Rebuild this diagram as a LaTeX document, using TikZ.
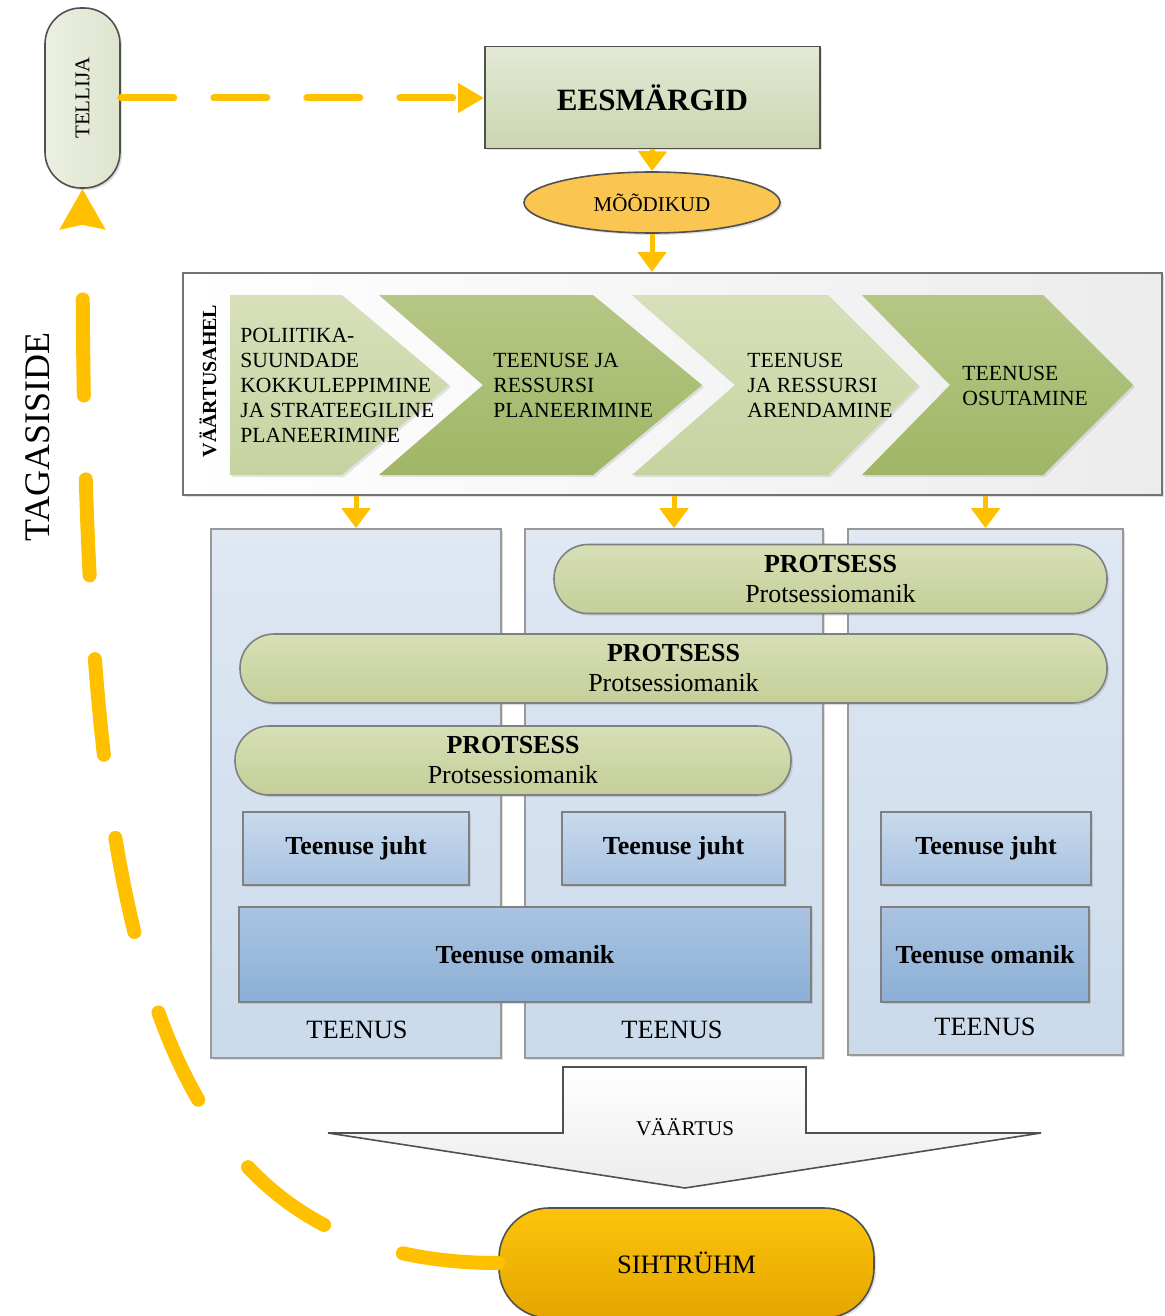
\documentclass[tikz,border=0pt]{standalone}
\usepackage{fontspec}
\setmainfont{Liberation Serif}
\usepackage{graphicx}
\usetikzlibrary{arrows.meta,calc,positioning,shapes.geometric,shadows}
\definecolor{flowColor}{RGB}{255,192,0}
\definecolor{borderColor}{RGB}{128,128,128}
\definecolor{darkBorderColor}{RGB}{80,80,80}
\definecolor{goalTopColor}{RGB}{227,233,214}
\definecolor{goalBottomColor}{RGB}{203,213,176}
\definecolor{customerColor}{RGB}{222,229,206}
\definecolor{metricColor}{RGB}{250,197,80}
\definecolor{chainColor}{RGB}{236,236,236}
\definecolor{linkLightTopColor}{RGB}{215,224,186}
\definecolor{linkLightBottomColor}{RGB}{198,211,160}
\definecolor{linkDarkTopColor}{RGB}{182,199,133}
\definecolor{linkDarkBottomColor}{RGB}{160,182,102}
\definecolor{serviceTopColor}{RGB}{223,232,243}
\definecolor{serviceBottomColor}{RGB}{202,218,235}
\definecolor{processTopColor}{RGB}{215,223,182}
\definecolor{processBottomColor}{RGB}{196,207,152}
\definecolor{leadTopColor}{RGB}{200,218,237}
\definecolor{leadBottomColor}{RGB}{168,194,224}
\definecolor{ownerTopColor}{RGB}{170,196,225}
\definecolor{ownerBottomColor}{RGB}{140,175,214}
\definecolor{groupTopColor}{RGB}{253,196,10}
\definecolor{groupBottomColor}{RGB}{228,166,0}
\tikzset{box/.style={draw=borderColor, line width=0.8pt, align=center, inner sep=0pt, drop shadow={shadow xshift=1pt, shadow yshift=-1pt, opacity=0.25}}}
\tikzset{customer/.style={box, draw=darkBorderColor, left color=customerColor!60, right color=customerColor, minimum width=37.5pt, minimum height=90pt, rounded corners=18pt, font=\fontsize{10.5}{12}\selectfont}}
\tikzset{goal/.style={box, draw=darkBorderColor, top color=goalTopColor, bottom color=goalBottomColor, minimum width=167.5pt, minimum height=51pt, text depth=0pt, font=\bfseries\fontsize{15.5}{18}\selectfont}}
\tikzset{metric/.style={box, ellipse, draw=darkBorderColor, fill=metricColor, minimum width=128pt, minimum height=30.5pt, font=\fontsize{10.5}{12}\selectfont}}
\tikzset{chainbox/.style={box, draw=darkBorderColor!80, line width=1pt, left color=white, right color=chainColor, minimum width=489.5pt, minimum height=111pt}}
\tikzset{lightlink/.style={top color=linkLightTopColor, bottom color=linkLightBottomColor, drop shadow={shadow xshift=1pt, shadow yshift=-1pt, opacity=0.2}}}
\tikzset{darklink/.style={top color=linkDarkTopColor, bottom color=linkDarkBottomColor, drop shadow={shadow xshift=1pt, shadow yshift=-1pt, opacity=0.2}}}
\tikzset{linktext/.style={anchor=west, align=left, inner sep=0pt, font=\fontsize{10.8}{12.5}\selectfont}}
\tikzset{service/.style={box, draw=borderColor!80, top color=serviceTopColor, bottom color=serviceBottomColor}}
\tikzset{servicelabel/.style={font=\fontsize{13.2}{15}\selectfont}}
\tikzset{process/.style={box, top color=processTopColor, bottom color=processBottomColor, minimum height=34.5pt, rounded corners=17pt, font=\fontsize{13}{15}\selectfont}}
\tikzset{lead/.style={box, top color=leadTopColor, bottom color=leadBottomColor, minimum height=36.5pt, font=\bfseries\fontsize{13}{15}\selectfont}}
\tikzset{owner/.style={box, top color=ownerTopColor, bottom color=ownerBottomColor, minimum height=47.5pt, font=\bfseries\fontsize{13}{15}\selectfont}}
\tikzset{valuearrow/.style={draw=darkBorderColor, line width=0.8pt, top color=white, bottom color=chainColor}}
\tikzset{targetgroup/.style={box, draw=darkBorderColor, top color=groupTopColor, bottom color=groupBottomColor, minimum width=187.5pt, minimum height=55pt, rounded corners=25pt, font=\fontsize{13.3}{15}\selectfont}}
\tikzset{flowarrow/.style={draw=flowColor, line width=2.5pt, -{Triangle[length=10pt, width=14pt]}}}
\tikzset{orderline/.style={draw=flowColor, line width=3.5pt, line cap=round, dash pattern=on 26.5pt off 20pt, -{Triangle[length=13pt, width=14pt]}}}
\tikzset{feedbackline/.style={draw=flowColor, line width=7pt, line cap=round, dash pattern=on 48pt off 42pt, -{Stealth[length=20pt, width=22pt, inset=2pt]}}}

\begin{document}
\begin{tikzpicture}[x=0.5pt, y=-0.5pt]
\useasboundingbox (0,0) rectangle (1165,1316);
% Nodes
\node (customer) [customer] at (82.5,98) {\rotatebox{90}{TELLIJA}};
\node (goals) [goal] at (652.5,97.5) {EESMÄRGID};
\node (metrics) [metric] at (652,202.5) {MÕÕDIKUD};

\node (chain) [chainbox] at (672.5,384) {};
\node (chainlabel) [rotate=90, font=\bfseries\fontsize{10}{12}\selectfont] at (208,381) {VÄÄRTUSAHEL};

% Value chain
\path [lightlink] (230,295) -- (342,295) -- (449,385) -- (342,475) -- (230,475) -- cycle;
\path [darklink] (379,295) -- (593,295) -- (702,385) -- (593,475) -- (379,475) -- (483,385) -- cycle;
\path [lightlink] (632,295) -- (828,295) -- (918,385) -- (828,475) -- (632,475) -- (735,385) -- cycle;
\path [darklink] (862,295) -- (1043,295) -- (1133,385) -- (1043,475) -- (862,475) -- (950,385) -- cycle;

\node (link1) [linktext] at (240,385) {POLIITIKA-\\SUUNDADE\\KOKKULEPPIMINE\\JA STRATEEGILINE\\PLANEERIMINE};
\node (link2) [linktext] at (493,385) {TEENUSE JA\\RESSURSI\\PLANEERIMINE};
\node (link3) [linktext] at (747,385) {TEENUSE\\JA RESSURSI\\ARENDAMINE};
\node (link4) [linktext] at (962,386) {TEENUSE\\OSUTAMINE};

% Services
\node (service1) [service, minimum width=145pt, minimum height=264.5pt] at (356,793.5) {};
\node (service2) [service, minimum width=149pt, minimum height=264.5pt] at (674,793.5) {};
\node (service3) [service, minimum width=137.5pt, minimum height=263pt] at (985.5,792) {};
\node (service1label) [servicelabel] at (357,1030) {TEENUS};
\node (service2label) [servicelabel] at (672,1030) {TEENUS};
\node (service3label) [servicelabel] at (985,1027) {TEENUS};

\node (process1) [process, minimum width=276.5pt] at (830.5,579) {\textbf{PROTSESS}\\Protsessiomanik};
\node (process2) [process, minimum width=433.5pt] at (673.5,668.5) {\textbf{PROTSESS}\\Protsessiomanik};
\node (process3) [process, minimum width=278pt] at (513,760.5) {\textbf{PROTSESS}\\Protsessiomanik};

\node (lead1) [lead, minimum width=113pt] at (356,848.5) {Teenuse juht};
\node (lead2) [lead, minimum width=111.5pt] at (673.5,848.5) {Teenuse juht};
\node (lead3) [lead, minimum width=105pt] at (986,848.5) {Teenuse juht};

\node (owner1) [owner, minimum width=286pt] at (525,954.5) {Teenuse omanik};
\node (owner2) [owner, minimum width=104pt] at (985,954.5) {Teenuse omanik};

% Value
\path [valuearrow] (563,1067) -- (806,1067) -- (806,1133) -- (1041,1133) -- (685,1188) -- (328,1133) -- (563,1133) -- cycle;
\node (value) [font=\fontsize{10.5}{12}\selectfont] at (685,1127) {VÄÄRTUS};

\node (group) [targetgroup] at (686.5,1263) {SIHTRÜHM};
\node (feedbacklabel) [rotate=90, font=\fontsize{18}{20}\selectfont] at (38,437) {TAGASISIDE};

% Connectors
\draw [orderline] (customer.east) -- (customer.east -| goals.west);
\draw [flowarrow] (goals.south) -- (metrics.north);
\draw [flowarrow] (metrics.south) -- (metrics.south |- chain.north);
\foreach \col in {service1,service2,service3}
  \draw [flowarrow] (\col.north |- chain.south) -- (\col.north);
\draw [feedbackline] (group.west) .. controls +(-370,0) and +(0,700) .. (customer.south);

\end{tikzpicture}
\end{document}
